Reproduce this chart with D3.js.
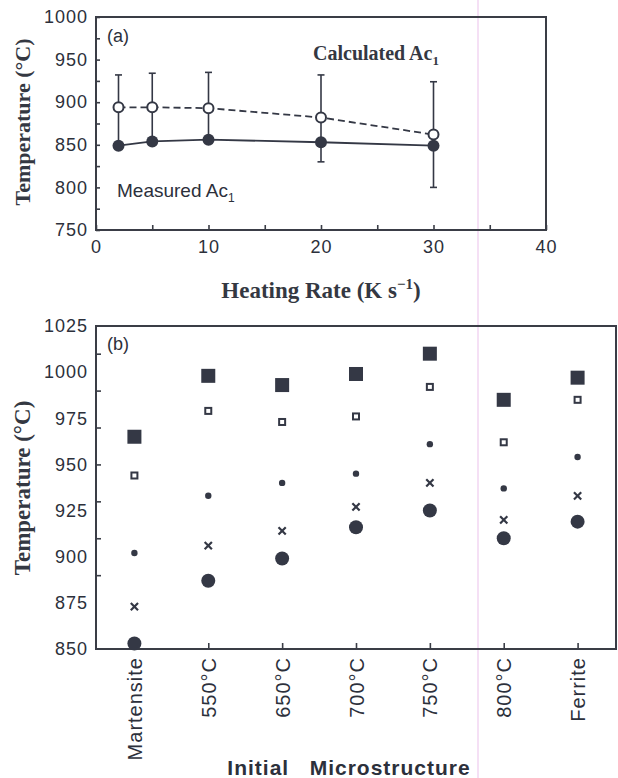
<!DOCTYPE html>
<html>
<head>
<meta charset="utf-8">
<script src="https://cdn.jsdelivr.net/npm/d3@7"></script>
<style>
  body { margin: 0; background: #fff; }
  svg { display: block; }
  .tk text { font-family: "Liberation Sans", Arial, sans-serif; font-size: 18px; fill: #2c303b; letter-spacing: 1px; }
  .tk line { stroke: #3a3d46; stroke-width: 1.6; }
  .serif { font-family: "Liberation Serif", "Times New Roman", serif; font-weight: bold; fill: #343842; }
  .sans { font-family: "Liberation Sans", Arial, sans-serif; fill: #2c303b; }
</style>
</head>
<body>
<svg id="fig" width="618" height="778"></svg>
<script>
// panel (a) - Ac1 vs heating rate
var rates = [2, 5, 10, 20, 30];
var measuredAc1 = [849, 854, 856, 853, 849];
var calcAc1 = [894, 894, 893, 882, 862];
var errHigh = [932, 934, 935, 932, 924];
var errLow = [852, 856, 857, 830, 800];

// panel (b) - temperatures by initial microstructure
var micro = ["Martensite", "550°C", "650°C", "700°C", "750°C", "800°C", "Ferrite"];
var bigSquare = [965, 998, 993, 999, 1010, 985, 997];
var openSquare = [944, 979, 973, 976, 992, 962, 985];
var diamond = [902, 933, 940, 945, 961, 937, 954];
var cross = [873, 906, 914, 927, 940, 920, 933];
var bigCircle = [853, 887, 899, 916, 925, 910, 919];

var ink = "#343845";
var fmt = d3.format("d");
var svg = d3.select("#fig");

// scan artefact line (pink)
svg.append("line").attr("x1", 478).attr("x2", 478).attr("y1", 0).attr("y2", 778)
  .attr("stroke", "#f2d6f2").attr("stroke-width", 1.5);

/* ---------- panel (a) ---------- */
var xa = d3.scaleLinear().domain([0, 40]).range([96, 546]);
var ya = d3.scaleLinear().domain([750, 1000]).range([230, 17]);

svg.append("g").attr("class", "tk")
  .attr("transform", "translate(96,0)")
  .call(d3.axisLeft(ya).tickValues(d3.range(750, 1001, 25)).tickSize(-4).tickFormat(""))
  .call(function(g){ g.select(".domain").remove(); });
svg.append("g").attr("class", "tk")
  .attr("transform", "translate(96,0)")
  .call(d3.axisLeft(ya).tickValues([750, 800, 850, 900, 950, 1000]).tickSize(0).tickPadding(8).tickFormat(fmt))
  .call(function(g){ g.select(".domain").remove(); });
svg.append("g").attr("class", "tk")
  .attr("transform", "translate(0,230)")
  .call(d3.axisBottom(xa).tickValues(d3.range(0, 41, 5)).tickSize(-5).tickFormat(""))
  .call(function(g){ g.select(".domain").remove(); });
svg.append("g").attr("class", "tk")
  .attr("transform", "translate(0,230)")
  .call(d3.axisBottom(xa).tickValues([0, 10, 20, 30, 40]).tickSize(0).tickPadding(10).tickFormat(fmt))
  .call(function(g){ g.select(".domain").remove(); });

svg.append("rect").attr("x", xa(0)).attr("y", ya(1000))
  .attr("width", xa(40) - xa(0)).attr("height", ya(750) - ya(1000))
  .attr("fill", "none").attr("stroke", "#3a3d46").attr("stroke-width", 2);

// error bars
var eb = svg.append("g").attr("stroke", ink).attr("stroke-width", 1.6);
rates.forEach(function(r, i){
  eb.append("line").attr("x1", xa(r)).attr("x2", xa(r)).attr("y1", ya(errHigh[i])).attr("y2", ya(errLow[i]));
  eb.append("line").attr("x1", xa(r) - 3.5).attr("x2", xa(r) + 3.5).attr("y1", ya(errHigh[i])).attr("y2", ya(errHigh[i]));
  eb.append("line").attr("x1", xa(r) - 3.5).attr("x2", xa(r) + 3.5).attr("y1", ya(errLow[i])).attr("y2", ya(errLow[i]));
});

var lineCalc = d3.line().x(function(d, i){ return xa(rates[i]); }).y(function(d){ return ya(d); });
svg.append("path").datum(calcAc1).attr("d", lineCalc)
  .attr("fill", "none").attr("stroke", ink).attr("stroke-width", 1.8).attr("stroke-dasharray", "7,4");
svg.append("path").datum(measuredAc1).attr("d", lineCalc)
  .attr("fill", "none").attr("stroke", ink).attr("stroke-width", 1.8);

svg.append("g").selectAll("circle").data(calcAc1).enter().append("circle")
  .attr("cx", function(d, i){ return xa(rates[i]); }).attr("cy", function(d){ return ya(d); })
  .attr("r", 5).attr("fill", "#fff").attr("stroke", ink).attr("stroke-width", 2);
svg.append("g").selectAll("circle").data(measuredAc1).enter().append("circle")
  .attr("cx", function(d, i){ return xa(rates[i]); }).attr("cy", function(d){ return ya(d); })
  .attr("r", 6).attr("fill", ink);

svg.append("text").attr("class", "sans").attr("x", 107).attr("y", 42).style("font-size", "18px").text("(a)");
var ct = svg.append("text").attr("class", "serif").attr("x", 313).attr("y", 60).style("font-size", "20px");
ct.append("tspan").text("Calculated Ac");
ct.append("tspan").attr("dy", 5).style("font-size", "13px").text("1");
var mt = svg.append("text").attr("class", "sans").attr("x", 117).attr("y", 197).style("font-size", "19px");
mt.append("tspan").text("Measured Ac");
mt.append("tspan").attr("dy", 5).style("font-size", "12px").text("1");

svg.append("text").attr("class", "serif").attr("transform", "translate(30,122) rotate(-90)")
  .attr("text-anchor", "middle").style("font-size", "22px").text("Temperature (°C)");
var ht = svg.append("text").attr("class", "serif").attr("x", 321).attr("y", 298)
  .attr("text-anchor", "middle").style("font-size", "23px");
ht.append("tspan").text("Heating Rate (K s");
ht.append("tspan").attr("dy", -9).style("font-size", "15px").text("−1");
ht.append("tspan").attr("dy", 9).text(")");

/* ---------- panel (b) ---------- */
var xb = d3.scalePoint().domain(micro).range([96, 616]).padding(0.52);
var yb = d3.scaleLinear().domain([850, 1025]).range([649, 326]);

svg.append("g").attr("class", "tk")
  .attr("transform", "translate(96,0)")
  .call(d3.axisLeft(yb).tickValues([890, 910, 930, 950, 970, 990, 1010]).tickSize(-5).tickFormat(""))
  .call(function(g){ g.select(".domain").remove(); });
svg.append("g").attr("class", "tk")
  .attr("transform", "translate(96,0)")
  .call(d3.axisLeft(yb).tickValues(d3.range(850, 1026, 25)).tickSize(0).tickPadding(8).tickFormat(fmt))
  .call(function(g){ g.select(".domain").remove(); });
svg.append("g").attr("class", "tk")
  .attr("transform", "translate(0,649)")
  .call(d3.axisBottom(xb).tickSize(-6).tickPadding(0))
  .call(function(g){ g.select(".domain").remove(); })
  .selectAll("text")
    .attr("transform", "rotate(-90)")
    .attr("x", -8).attr("y", 0).attr("dy", "0.35em")
    .style("text-anchor", "end").style("font-size", "20px");

svg.append("rect").attr("x", 96).attr("y", yb(1025))
  .attr("width", 520).attr("height", yb(850) - yb(1025))
  .attr("fill", "none").attr("stroke", "#3a3d46").attr("stroke-width", 2);

var pb = svg.append("g");
micro.forEach(function(m, i){
  var cx = xb(m);
  pb.append("rect").attr("x", cx - 7).attr("y", yb(bigSquare[i]) - 7).attr("width", 14).attr("height", 14).attr("fill", ink);
  pb.append("rect").attr("x", cx - 3).attr("y", yb(openSquare[i]) - 3).attr("width", 6).attr("height", 6)
    .attr("fill", "#fff").attr("stroke", ink).attr("stroke-width", 2);
  pb.append("circle").attr("cx", cx).attr("cy", yb(diamond[i])).attr("r", 3.2).attr("fill", ink);
  pb.append("path").attr("d", d3.symbol(d3.symbolTimes, 36)())
    .attr("transform", "translate(" + cx + "," + yb(cross[i]) + ")").attr("fill", "none")
    .attr("stroke", ink).attr("stroke-width", 2.2);
  pb.append("circle").attr("cx", cx).attr("cy", yb(bigCircle[i])).attr("r", 7).attr("fill", ink);
});

svg.append("text").attr("class", "sans").attr("x", 107).attr("y", 350).style("font-size", "18px").text("(b)");
svg.append("text").attr("class", "serif").attr("transform", "translate(30,488) rotate(-90)")
  .attr("text-anchor", "middle").style("font-size", "23px").text("Temperature (°C)");
svg.append("text").attr("class", "sans").attr("x", 349).attr("y", 775)
  .attr("text-anchor", "middle").style("font-size", "21px").style("font-weight", "bold")
  .style("letter-spacing", "1px").attr("xml:space", "preserve").text("Initial   Microstructure");
</script>
</body>
</html>
